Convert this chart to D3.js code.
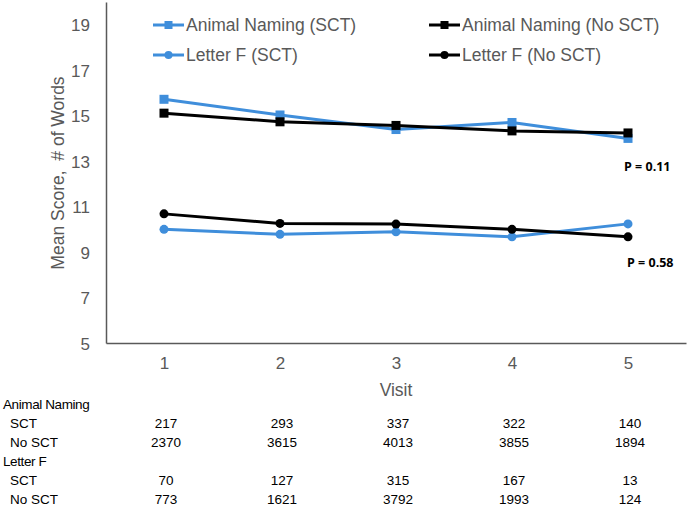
<!DOCTYPE html>
<html>
<head>
<meta charset="utf-8">
<script src="https://cdn.jsdelivr.net/npm/d3@7/dist/d3.min.js"></script>
<style>
  html, body { margin: 0; padding: 0; background: #fff; }
  svg { display: block; }
  text { font-family: "Liberation Sans", Arial, sans-serif; }
</style>
</head>
<body>
<script>
// ---- data ----
const visits = [1, 2, 3, 4, 5];
const animalSCT   = [15.72, 15.03, 14.39, 14.70, 14.00];
const animalNoSCT = [15.11, 14.73, 14.57, 14.33, 14.24];
const letterSCT   = [10.00, 9.78, 9.89, 9.67, 10.24];
const letterNoSCT = [10.68, 10.26, 10.23, 10.00, 9.67];
const yTicks = [5, 7, 9, 11, 13, 15, 17, 19];
const pLabels = ["P = 0.11", "P = 0.58"];
const tableGroups = ["Animal Naming", "Letter F"];
const tableRowNames = ["SCT", "No SCT"];
const nAnimalSCT   = [217, 293, 337, 322, 140];
const nAnimalNoSCT = [2370, 3615, 4013, 3855, 1894];
const nLetterSCT   = [70, 127, 315, 167, 13];
const nLetterNoSCT = [773, 1621, 3792, 1993, 124];

const BLUE = "#3F8EDB", BLACK = "#000000", GRAY = "#595959";

const series = [
  { name: "Animal Naming (SCT)",    values: animalSCT,   color: BLUE,  shape: "square" },
  { name: "Letter F (SCT)",         values: letterSCT,   color: BLUE,  shape: "circle" },
  { name: "Animal Naming (No SCT)", values: animalNoSCT, color: BLACK, shape: "square" },
  { name: "Letter F (No SCT)",      values: letterNoSCT, color: BLACK, shape: "circle" }
];

const W = 688, H = 507;
const svg = d3.select("body").append("svg").attr("width", W).attr("height", H);

const x = d3.scalePoint().domain(visits).range([106, 686]).padding(0.5);
const y = d3.scaleLinear().domain([5, 20]).range([343, 2]);

// axes
const yAxis = d3.axisLeft(y).tickValues(yTicks).tickSize(0).tickPadding(16);
const gy = svg.append("g").attr("transform", "translate(106,0)").call(yAxis);
gy.select(".domain").attr("stroke", GRAY).attr("stroke-width", 1.5);
gy.selectAll("text").attr("fill", GRAY).style("font-size", "17px").attr("dy", "0.36em");

const xAxis = d3.axisBottom(x).tickSize(0).tickPadding(14);
const gx = svg.append("g").attr("transform", "translate(0,343)").call(xAxis);
gx.select(".domain").attr("stroke", GRAY).attr("stroke-width", 1.5);
gx.selectAll("text").attr("fill", GRAY).style("font-size", "17px");

// axis titles
svg.append("text")
  .attr("transform", "translate(64,173) rotate(-90)")
  .attr("text-anchor", "middle")
  .style("white-space", "pre")
  .style("font-size", "17.5px")
  .attr("fill", GRAY)
  .text("Mean Score,  # of Words");

svg.append("text")
  .attr("x", 396).attr("y", 396)
  .attr("text-anchor", "middle")
  .style("font-size", "17.5px")
  .attr("fill", GRAY)
  .text("Visit");

// lines
const line = d3.line().x((d, i) => x(visits[i])).y(d => y(d));
function drawMarker(g, shape, cx, cy, color, s) {
  if (shape === "square") {
    g.append("rect").attr("x", cx - s / 2).attr("y", cy - s / 2)
      .attr("width", s).attr("height", s).attr("fill", color);
  } else {
    g.append("circle").attr("cx", cx).attr("cy", cy).attr("r", s / 2).attr("fill", color);
  }
}
series.forEach(s => {
  const g = svg.append("g");
  g.append("path").datum(s.values).attr("d", line)
    .attr("fill", "none").attr("stroke", s.color).attr("stroke-width", 3)
    .attr("stroke-linejoin", "round");
  s.values.forEach((v, i) => drawMarker(g, s.shape, x(visits[i]), y(v), s.color, 9));
});

// legend
const legendPos = {
  "Animal Naming (SCT)": [153, 25],
  "Letter F (SCT)": [153, 55],
  "Animal Naming (No SCT)": [429, 25],
  "Letter F (No SCT)": [429, 55]
};
series.forEach(s => {
  const [lx, ly] = legendPos[s.name];
  const g = svg.append("g");
  g.append("line").attr("x1", lx).attr("x2", lx + 31).attr("y1", ly).attr("y2", ly)
    .attr("stroke", s.color).attr("stroke-width", 3);
  drawMarker(g, s.shape, lx + 15.5, ly, s.color, 8);
  g.append("text").attr("x", lx + 33).attr("y", ly).attr("dy", "0.36em")
    .style("font-size", "17.5px").attr("fill", GRAY).text(s.name);
});

// p-value annotations
svg.append("text").attr("x", 624).attr("y", 171)
  .style("font-family", "'Open Sans', sans-serif").style("font-weight", "bold")
  .style("font-size", "12.5px").attr("fill", "#000").text(pLabels[0]);
svg.append("text").attr("x", 627).attr("y", 267)
  .style("font-family", "'Open Sans', sans-serif").style("font-weight", "bold")
  .style("font-size", "12.5px").attr("fill", "#000").text(pLabels[1]);

// table
const tableData = [
  { group: tableGroups[0], rows: [nAnimalSCT, nAnimalNoSCT] },
  { group: tableGroups[1], rows: [nLetterSCT, nLetterNoSCT] }
];
const rowH = 18.9;
let baseY = 409.3;
const tg = svg.append("g").style("font-size", "13.5px").attr("fill", "#000");
tableData.forEach(td => {
  tg.append("text").attr("x", 3).attr("y", baseY).style("letter-spacing", "-0.4px").text(td.group);
  baseY += rowH;
  td.rows.forEach((vals, r) => {
    tg.append("text").attr("x", 10).attr("y", baseY).text(tableRowNames[r]);
    vals.forEach((v, i) => {
      tg.append("text").attr("x", x(visits[i]) + 2).attr("y", baseY)
        .attr("text-anchor", "middle").text(v);
    });
    baseY += rowH;
  });
});
</script>
</body>
</html>
